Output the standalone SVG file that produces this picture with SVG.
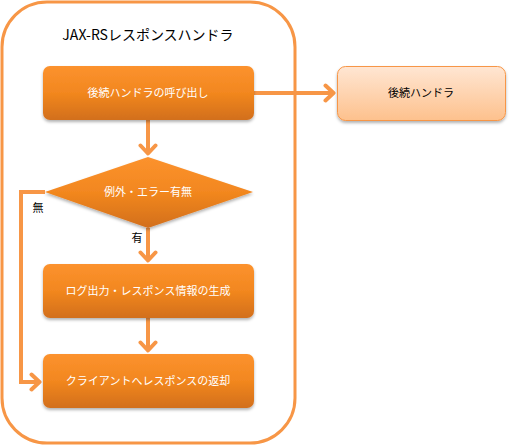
<svg xmlns="http://www.w3.org/2000/svg" width="509" height="446" viewBox="0 0 509 446">
<defs>
<linearGradient id="gO" x1="0" y1="0" x2="0" y2="1">
<stop offset="0" stop-color="#FC922E"/>
<stop offset="0.5" stop-color="#F2871F"/>
<stop offset="1" stop-color="#D26F1E"/>
</linearGradient>
<linearGradient id="gL" x1="0" y1="0" x2="0" y2="1">
<stop offset="0" stop-color="#FFE6D3"/>
<stop offset="1" stop-color="#FDC18D"/>
</linearGradient>
<filter id="sh" x="-10%" y="-20%" width="120%" height="150%">
<feDropShadow dx="0" dy="2" stdDeviation="1.5" flood-color="#000" flood-opacity="0.3"/>
</filter>
<marker id="ah" viewBox="0 0 14 20" refX="11.5" refY="10" markerWidth="14" markerHeight="20" markerUnits="userSpaceOnUse" orient="auto">
<path d="M3,2.5 L11,10 L3,17.5" fill="none" stroke="#F79646" stroke-width="4" stroke-linecap="round" stroke-linejoin="round"/>
</marker>
<style>
.t{font-family:"Noto Sans CJK JP","Liberation Sans",sans-serif;font-size:11px;text-anchor:middle;}
.w{fill:#FFFFFF;}
.k{fill:#000000;}
.c{fill:none;stroke:#F79646;stroke-width:4;}
</style>
</defs>
<g id="container">
<rect x="2" y="2" width="293" height="441" rx="45" ry="45" fill="#FFFFFF" stroke="#F79646" stroke-width="3"/>
<text x="148" y="40" style="font-family:'Noto Sans CJK JP','Liberation Sans',sans-serif;font-size:14px;text-anchor:middle;" fill="#000">JAX-RSレスポンスハンドラ</text>
</g>
<g id="connectors">
<path class="c" d="M148,120 V154" marker-end="url(#ah)"/>
<path class="c" d="M254,93 H334" marker-end="url(#ah)"/>
<path class="c" d="M148,228 V261" marker-end="url(#ah)"/>
<path class="c" d="M148,318 V351" marker-end="url(#ah)"/>
<path class="c" d="M45,192 H21 V382 H40" marker-end="url(#ah)"/>
<text class="t k" x="38" y="212">無</text>
<text class="t k" x="137" y="242">有</text>
</g>
<g id="n1">
<rect x="43" y="66" width="211" height="54" rx="7" fill="url(#gO)" filter="url(#sh)"/>
<text class="t w" x="148" y="97">後続ハンドラの呼び出し</text>
</g>
<g id="n2">
<path d="M148,157 L253,192 L148,228 L45,192 Z" fill="url(#gO)" filter="url(#sh)"/>
<text class="t w" x="148" y="196">例外・エラー有無</text>
</g>
<g id="n3">
<rect x="43" y="264" width="211" height="54" rx="7" fill="url(#gO)" filter="url(#sh)"/>
<text class="t w" x="148" y="295">ログ出力・レスポンス情報の生成</text>
</g>
<g id="n4">
<rect x="43" y="354" width="211" height="54" rx="7" fill="url(#gO)" filter="url(#sh)"/>
<text class="t w" x="148" y="385">クライアントへレスポンスの返却</text>
</g>
<g id="n5">
<rect x="337.5" y="66.5" width="168" height="54" rx="8" fill="url(#gL)" stroke="#F79646" stroke-width="1" filter="url(#sh)"/>
<text class="t k" x="421" y="97">後続ハンドラ</text>
</g>
</svg>
